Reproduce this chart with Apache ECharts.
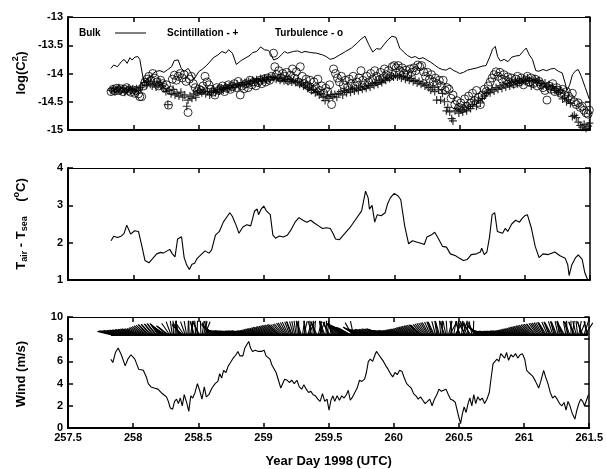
<!DOCTYPE html>
<html>
<head>
<meta charset="utf-8">
<script src="https://cdn.jsdelivr.net/npm/echarts@6/dist/echarts.min.js"></script>
<style>
  html, body { margin: 0; padding: 0; background: #fff; }
  #chart { width: 606px; height: 469px; }
</style>
</head>
<body>
<div id="chart"></div>
<script>
// ---- Refractive index structure parameter log(Cn^2) ----
const bulk = [[257.829,-13.91],[257.850,-13.85],[257.879,-13.88],[257.909,-13.79],[257.930,-13.75],[257.953,-13.82],[257.975,-13.72],[257.990,-13.76],[258.013,-13.71],[258.035,-13.70],[258.050,-13.75],[258.062,-13.78],[258.080,-14.14],[258.116,-14.10],[258.146,-14.01],[258.176,-13.96],[258.205,-13.95],[258.235,-13.98],[258.264,-13.93],[258.294,-13.88],[258.315,-13.77],[258.344,-13.76],[258.368,-13.91],[258.392,-13.96],[258.421,-13.91],[258.442,-13.99],[258.465,-14.10],[258.480,-14.05],[258.501,-13.97],[258.531,-13.92],[258.561,-13.86],[258.585,-13.80],[258.614,-13.72],[258.650,-13.67],[258.679,-13.61],[258.709,-13.64],[258.730,-13.58],[258.760,-13.64],[258.790,-13.84],[258.827,-13.77],[258.857,-13.73],[258.887,-13.69],[258.916,-13.63],[258.946,-13.61],[258.976,-13.53],[259.005,-13.58],[259.035,-13.59],[259.055,-13.65],[259.075,-13.76],[259.109,-13.73],[259.139,-13.66],[259.160,-13.61],[259.183,-13.64],[259.227,-13.61],[259.260,-13.60],[259.290,-13.63],[259.316,-13.61],[259.361,-13.63],[259.405,-13.64],[259.450,-13.67],[259.479,-13.70],[259.509,-13.75],[259.539,-13.73],[259.583,-13.67],[259.627,-13.61],[259.672,-13.55],[259.716,-13.46],[259.746,-13.39],[259.776,-13.34],[259.805,-13.49],[259.835,-13.62],[259.864,-13.56],[259.894,-13.57],[259.924,-13.48],[259.953,-13.40],[259.983,-13.34],[260.013,-13.36],[260.042,-13.55],[260.072,-13.62],[260.101,-13.68],[260.131,-13.72],[260.161,-13.70],[260.190,-13.74],[260.220,-13.72],[260.250,-13.76],[260.279,-13.80],[260.309,-13.85],[260.339,-13.90],[260.368,-13.93],[260.398,-13.94],[260.427,-13.90],[260.457,-13.95],[260.478,-13.97],[260.501,-14.00],[260.531,-13.98],[260.561,-13.94],[260.596,-13.92],[260.635,-13.90],[260.673,-13.87],[260.703,-13.86],[260.733,-13.70],[260.753,-13.57],[260.774,-13.52],[260.792,-13.70],[260.813,-13.78],[260.842,-13.75],[260.872,-13.79],[260.901,-13.71],[260.931,-13.69],[260.961,-13.68],[260.990,-13.60],[261.011,-13.55],[261.035,-13.67],[261.059,-13.75],[261.085,-13.95],[261.109,-13.96],[261.139,-13.93],[261.168,-13.95],[261.198,-13.92],[261.227,-13.91],[261.257,-13.96],[261.287,-13.99],[261.307,-14.15],[261.324,-14.30],[261.344,-14.20],[261.366,-14.02],[261.390,-13.95],[261.410,-13.93],[261.433,-14.05],[261.464,-14.25],[261.494,-14.45]];

const scintillation = [[257.83,-14.30],[257.845,-14.27],[257.86,-14.32],[257.875,-14.28],[257.89,-14.25],[257.905,-14.31],[257.92,-14.27],[257.935,-14.33],[257.95,-14.29],[257.965,-14.26],[257.98,-14.30],[257.995,-14.28],[258.01,-14.32],[258.025,-14.27],[258.04,-14.30],[258.055,-14.25],[258.07,-14.22],[258.085,-14.16],[258.10,-14.20],[258.115,-14.14],[258.13,-14.19],[258.145,-14.22],[258.16,-14.17],[258.175,-14.24],[258.19,-14.20],[258.205,-14.15],[258.22,-14.22],[258.235,-14.27],[258.25,-14.32],[258.265,-14.55],[258.275,-14.30],[258.29,-14.36],[258.305,-14.28],[258.32,-14.38],[258.335,-14.35],[258.35,-14.40],[258.365,-14.33],[258.38,-14.42],[258.395,-14.38],[258.41,-14.58],[258.42,-14.47],[258.435,-14.40],[258.45,-14.44],[258.465,-14.36],[258.48,-14.42],[258.495,-14.33],[258.51,-14.30],[258.525,-14.34],[258.54,-14.31],[258.555,-14.36],[258.57,-14.32],[258.585,-14.38],[258.60,-14.33],[258.615,-14.30],[258.63,-14.34],[258.645,-14.28],[258.66,-14.31],[258.675,-14.26],[258.69,-14.29],[258.705,-14.24],[258.72,-14.27],[258.735,-14.22],[258.75,-14.25],[258.765,-14.21],[258.78,-14.24],[258.795,-14.19],[258.81,-14.22],[258.825,-14.17],[258.84,-14.20],[258.855,-14.16],[258.87,-14.19],[258.885,-14.14],[258.90,-14.17],[258.915,-14.12],[258.93,-14.15],[258.945,-14.11],[258.96,-14.14],[258.975,-14.09],[258.99,-14.12],[259.005,-14.08],[259.02,-14.11],[259.035,-14.07],[259.05,-14.10],[259.065,-14.06],[259.08,-14.07],[259.095,-14.10],[259.11,-14.08],[259.125,-14.12],[259.14,-14.09],[259.155,-14.13],[259.17,-14.10],[259.185,-14.14],[259.20,-14.11],[259.215,-14.15],[259.23,-14.12],[259.245,-14.16],[259.26,-14.14],[259.275,-14.19],[259.29,-14.17],[259.305,-14.22],[259.32,-14.20],[259.335,-14.26],[259.35,-14.24],[259.365,-14.30],[259.38,-14.28],[259.395,-14.34],[259.41,-14.32],[259.425,-14.38],[259.44,-14.36],[259.455,-14.42],[259.47,-14.48],[259.485,-14.40],[259.50,-14.44],[259.515,-14.38],[259.53,-14.41],[259.545,-14.37],[259.56,-14.42],[259.575,-14.35],[259.59,-14.32],[259.605,-14.38],[259.62,-14.30],[259.635,-14.34],[259.65,-14.28],[259.665,-14.33],[259.68,-14.27],[259.695,-14.31],[259.71,-14.26],[259.725,-14.30],[259.74,-14.24],[259.755,-14.28],[259.77,-14.23],[259.785,-14.26],[259.80,-14.21],[259.815,-14.24],[259.83,-14.18],[259.845,-14.21],[259.86,-14.16],[259.875,-14.19],[259.89,-14.13],[259.905,-14.16],[259.92,-14.10],[259.935,-14.12],[259.95,-14.07],[259.965,-14.09],[259.98,-14.04],[259.995,-14.06],[260.01,-14.03],[260.025,-14.06],[260.04,-14.04],[260.055,-14.08],[260.07,-14.05],[260.085,-14.10],[260.10,-14.07],[260.115,-14.12],[260.13,-14.09],[260.145,-14.14],[260.16,-14.12],[260.175,-14.17],[260.19,-14.14],[260.205,-14.19],[260.22,-14.17],[260.235,-14.22],[260.25,-14.20],[260.265,-14.25],[260.28,-14.29],[260.295,-14.24],[260.31,-14.32],[260.325,-14.47],[260.34,-14.29],[260.355,-14.47],[260.37,-14.35],[260.385,-14.50],[260.40,-14.66],[260.41,-14.60],[260.425,-14.68],[260.44,-14.80],[260.45,-14.84],[260.465,-14.66],[260.48,-14.62],[260.495,-14.70],[260.51,-14.64],[260.525,-14.68],[260.54,-14.60],[260.555,-14.66],[260.57,-14.58],[260.585,-14.62],[260.60,-14.55],[260.615,-14.50],[260.63,-14.58],[260.645,-14.47],[260.66,-14.52],[260.675,-14.44],[260.69,-14.40],[260.705,-14.35],[260.72,-14.31],[260.735,-14.34],[260.75,-14.28],[260.765,-14.31],[260.78,-14.25],[260.795,-14.28],[260.81,-14.22],[260.825,-14.26],[260.84,-14.20],[260.855,-14.24],[260.87,-14.18],[260.885,-14.22],[260.90,-14.16],[260.915,-14.20],[260.93,-14.14],[260.945,-14.18],[260.96,-14.12],[260.975,-14.16],[260.99,-14.10],[261.005,-14.14],[261.02,-14.08],[261.035,-14.12],[261.05,-14.22],[261.065,-14.13],[261.08,-14.10],[261.095,-14.15],[261.11,-14.12],[261.125,-14.18],[261.14,-14.22],[261.155,-14.17],[261.17,-14.24],[261.185,-14.20],[261.20,-14.27],[261.215,-14.23],[261.23,-14.30],[261.245,-14.27],[261.26,-14.34],[261.275,-14.30],[261.29,-14.45],[261.305,-14.42],[261.32,-14.50],[261.335,-14.47],[261.35,-14.53],[261.365,-14.76],[261.38,-14.74],[261.395,-14.78],[261.41,-14.86],[261.425,-14.92],[261.44,-14.95],[261.455,-14.90],[261.47,-14.97],[261.485,-14.93],[261.495,-14.88]];

const turbulence = [[257.83,-14.32],[257.845,-14.28],[257.86,-14.31],[257.875,-14.26],[257.89,-14.30],[257.905,-14.27],[257.92,-14.32],[257.935,-14.28],[257.95,-14.25],[257.965,-14.30],[257.98,-14.33],[257.995,-14.29],[258.01,-14.35],[258.025,-14.30],[258.04,-14.36],[258.05,-14.41],[258.065,-14.41],[258.08,-14.22],[258.09,-14.15],[258.105,-14.10],[258.12,-14.05],[258.135,-14.12],[258.15,-14.00],[258.165,-14.08],[258.18,-14.15],[258.195,-14.22],[258.21,-14.12],[258.225,-14.18],[258.24,-14.25],[258.255,-14.20],[258.27,-14.56],[258.285,-14.30],[258.30,-14.10],[258.315,-14.03],[258.33,-14.12],[258.345,-14.05],[258.36,-14.00],[258.375,-14.08],[258.39,-14.02],[258.405,-14.14],[258.42,-14.69],[258.43,-14.10],[258.445,-14.05],[258.46,-14.18],[258.475,-14.25],[258.49,-14.32],[258.505,-14.28],[258.52,-14.30],[258.535,-14.22],[258.55,-14.05],[258.565,-14.15],[258.58,-14.20],[258.595,-14.28],[258.61,-14.33],[258.625,-14.38],[258.64,-14.25],[258.655,-14.30],[258.67,-14.27],[258.685,-14.22],[258.70,-14.32],[258.715,-14.26],[258.73,-14.20],[258.745,-14.28],[258.76,-14.23],[258.775,-14.18],[258.79,-14.25],[258.805,-14.14],[258.82,-14.38],[258.835,-14.22],[258.85,-14.27],[258.865,-14.18],[258.88,-14.25],[258.895,-14.12],[258.91,-14.20],[258.925,-14.15],[258.94,-14.22],[258.955,-14.16],[258.97,-14.12],[258.985,-14.18],[259.00,-14.10],[259.015,-14.15],[259.03,-14.08],[259.045,-14.12],[259.06,-14.05],[259.075,-13.64],[259.085,-13.88],[259.10,-14.02],[259.115,-13.95],[259.13,-14.08],[259.145,-14.00],[259.16,-14.05],[259.175,-13.98],[259.19,-14.12],[259.205,-14.03],[259.22,-13.92],[259.235,-14.08],[259.25,-13.97],[259.265,-14.15],[259.28,-13.88],[259.295,-14.05],[259.31,-14.18],[259.325,-14.10],[259.34,-14.22],[259.355,-14.12],[259.37,-14.28],[259.385,-14.15],[259.40,-14.25],[259.415,-14.10],[259.43,-14.30],[259.445,-14.22],[259.46,-14.35],[259.475,-14.26],[259.49,-14.32],[259.505,-14.20],[259.52,-14.55],[259.535,-13.92],[259.55,-14.00],[259.565,-14.08],[259.58,-14.15],[259.595,-14.05],[259.61,-14.20],[259.625,-14.12],[259.64,-14.25],[259.655,-14.10],[259.67,-14.18],[259.685,-14.05],[259.70,-14.22],[259.715,-14.15],[259.73,-14.08],[259.745,-13.95],[259.76,-14.12],[259.775,-14.20],[259.79,-14.05],[259.805,-14.15],[259.82,-14.00],[259.835,-14.10],[259.85,-13.95],[259.865,-14.05],[259.88,-14.12],[259.895,-13.98],[259.91,-14.08],[259.925,-13.92],[259.94,-14.02],[259.955,-13.95],[259.97,-14.05],[259.985,-13.88],[260.00,-13.86],[260.015,-13.90],[260.03,-13.86],[260.045,-13.95],[260.06,-13.90],[260.075,-14.00],[260.09,-13.94],[260.105,-14.02],[260.12,-13.92],[260.135,-13.98],[260.15,-13.90],[260.165,-13.95],[260.18,-13.85],[260.195,-13.88],[260.21,-13.86],[260.225,-13.97],[260.24,-14.05],[260.255,-13.98],[260.27,-14.10],[260.285,-14.02],[260.30,-14.15],[260.315,-14.08],[260.33,-14.18],[260.345,-14.12],[260.36,-14.22],[260.375,-14.12],[260.39,-14.30],[260.405,-14.25],[260.42,-14.28],[260.435,-14.44],[260.45,-14.38],[260.465,-14.55],[260.48,-14.48],[260.495,-14.60],[260.51,-14.52],[260.525,-14.62],[260.54,-14.45],[260.555,-14.58],[260.57,-14.40],[260.585,-14.52],[260.60,-14.35],[260.615,-14.48],[260.63,-14.30],[260.645,-14.42],[260.66,-14.55],[260.675,-14.38],[260.69,-14.28],[260.705,-14.32],[260.72,-14.22],[260.735,-14.15],[260.75,-14.08],[260.765,-14.02],[260.78,-13.97],[260.795,-14.05],[260.81,-13.98],[260.825,-14.10],[260.84,-14.02],[260.855,-14.12],[260.87,-14.06],[260.885,-14.15],[260.90,-14.08],[260.915,-14.18],[260.93,-14.10],[260.945,-14.05],[260.96,-14.15],[260.975,-14.08],[260.99,-14.20],[261.005,-14.12],[261.02,-14.05],[261.035,-14.15],[261.05,-14.08],[261.065,-14.18],[261.08,-14.10],[261.095,-14.22],[261.11,-14.14],[261.125,-14.20],[261.14,-14.25],[261.155,-14.30],[261.17,-14.47],[261.185,-14.22],[261.20,-14.28],[261.215,-14.18],[261.23,-14.32],[261.245,-14.25],[261.26,-14.30],[261.275,-14.35],[261.29,-14.28],[261.305,-14.38],[261.32,-14.32],[261.335,-14.40],[261.35,-14.45],[261.365,-14.35],[261.38,-14.50],[261.395,-14.55],[261.41,-14.52],[261.425,-14.60],[261.44,-14.58],[261.455,-14.65],[261.47,-14.70],[261.485,-14.72],[261.495,-14.65]];

// ---- Air minus sea temperature (deg C) ----
const tempDiff = [[257.83,2.05],[257.85,2.17],[257.88,2.14],[257.91,2.18],[257.93,2.25],[257.95,2.47],[257.98,2.23],[258.01,2.32],[258.04,2.30],[258.07,1.85],[258.09,1.52],[258.12,1.46],[258.15,1.58],[258.18,1.70],[258.21,1.74],[258.23,1.72],[258.26,1.78],[258.28,1.82],[258.30,1.70],[258.32,1.62],[258.34,2.10],[258.37,2.16],[258.38,2.15],[258.39,1.60],[258.41,1.40],[258.43,1.28],[258.45,1.42],[258.47,1.45],[258.49,1.58],[258.52,1.68],[258.55,1.78],[258.58,1.72],[258.60,1.80],[258.63,2.20],[258.66,2.30],[258.69,2.55],[258.72,2.70],[258.74,2.80],[258.76,2.70],[258.79,2.45],[258.81,2.25],[258.84,2.42],[258.87,2.48],[258.90,2.45],[258.93,2.85],[258.95,2.90],[258.96,2.75],[258.98,2.90],[259.00,2.98],[259.02,2.85],[259.05,2.75],[259.07,2.20],[259.09,2.12],[259.12,2.18],[259.15,2.15],[259.18,2.20],[259.21,2.35],[259.24,2.55],[259.27,2.67],[259.30,2.60],[259.33,2.55],[259.36,2.60],[259.39,2.52],[259.42,2.45],[259.45,2.38],[259.48,2.40],[259.51,2.38],[259.53,2.25],[259.55,2.10],[259.58,2.08],[259.61,2.20],[259.66,2.40],[259.70,2.60],[259.75,2.85],[259.78,3.38],[259.80,3.20],[259.81,2.90],[259.83,3.00],[259.85,2.55],[259.87,2.75],[259.90,2.72],[259.93,2.80],[259.95,3.05],[259.97,3.20],[260.00,3.32],[260.03,3.25],[260.05,3.15],[260.08,2.45],[260.11,1.97],[260.14,2.05],[260.17,2.02],[260.21,1.98],[260.23,1.95],[260.25,2.15],[260.29,2.22],[260.31,2.28],[260.34,2.10],[260.37,1.90],[260.40,1.88],[260.43,1.70],[260.47,1.65],[260.50,1.58],[260.53,1.52],[260.56,1.55],[260.59,1.68],[260.63,1.70],[260.66,1.75],[260.67,1.85],[260.69,1.68],[260.71,1.75],[260.73,2.15],[260.75,2.75],[260.77,2.80],[260.78,2.82],[260.79,2.30],[260.83,2.25],[260.85,2.38],[260.87,2.30],[260.90,2.50],[260.93,2.60],[260.96,2.55],[260.98,2.65],[261.00,2.72],[261.02,2.75],[261.05,2.40],[261.08,1.90],[261.11,1.60],[261.14,1.70],[261.18,1.68],[261.23,1.75],[261.27,1.65],[261.31,1.58],[261.33,1.40],[261.34,1.12],[261.36,1.40],[261.39,1.60],[261.41,1.67],[261.44,1.55],[261.46,1.20],[261.48,1.02]];

// ---- Wind speed (m/s) ----
const windSpeed = [[257.829,6.2],[257.844,5.9],[257.864,6.8],[257.885,7.2],[257.909,6.6],[257.924,6.6],[257.939,5.6],[257.959,6.2],[257.983,6.6],[258.013,6.2],[258.042,5.3],[258.078,5.2],[258.101,4.6],[258.116,4.0],[258.137,3.7],[258.161,3.6],[258.190,3.5],[258.214,3.2],[258.235,3.0],[258.256,2.8],[258.270,2.4],[258.285,1.8],[258.303,1.7],[258.318,2.4],[258.333,2.6],[258.347,2.2],[258.362,2.7],[258.377,2.0],[258.392,3.0],[258.413,2.2],[258.427,1.5],[258.442,2.9],[258.457,2.7],[258.475,3.2],[258.493,4.0],[258.510,3.4],[258.528,2.6],[258.546,3.7],[258.561,2.8],[258.581,3.0],[258.605,3.6],[258.629,4.0],[258.650,4.2],[258.664,4.9],[258.679,4.5],[258.694,5.2],[258.712,5.0],[258.730,5.6],[258.747,5.9],[258.768,6.3],[258.789,6.6],[258.804,6.9],[258.819,6.5],[258.842,6.5],[258.857,7.2],[258.872,7.5],[258.887,7.8],[258.901,7.2],[258.916,6.9],[258.937,7.0],[258.961,6.9],[258.984,6.9],[259.005,7.0],[259.020,6.5],[259.035,6.6],[259.050,6.2],[259.064,5.7],[259.079,5.8],[259.097,5.0],[259.115,4.3],[259.133,3.6],[259.147,3.7],[259.162,4.4],[259.183,4.3],[259.198,4.1],[259.218,4.3],[259.236,4.0],[259.257,4.3],[259.275,3.7],[259.293,3.5],[259.310,3.9],[259.328,3.5],[259.346,3.2],[259.364,3.3],[259.381,3.0],[259.399,2.9],[259.417,2.6],[259.435,2.4],[259.453,3.1],[259.470,2.4],[259.488,2.6],[259.503,1.6],[259.518,2.5],[259.533,2.9],[259.547,2.4],[259.565,2.9],[259.583,2.5],[259.601,2.9],[259.619,2.7],[259.636,3.0],[259.651,3.4],[259.666,2.5],[259.684,2.8],[259.701,3.2],[259.719,3.6],[259.737,4.3],[259.755,4.2],[259.776,4.4],[259.790,5.0],[259.805,6.0],[259.820,6.2],[259.838,6.0],[259.856,6.6],[259.867,6.9],[259.885,6.6],[259.903,6.3],[259.921,6.0],[259.939,5.6],[259.956,5.3],[259.974,4.9],[259.992,4.6],[260.010,5.0],[260.027,4.8],[260.045,5.2],[260.063,5.1],[260.081,4.5],[260.099,4.0],[260.116,3.8],[260.134,3.6],[260.152,3.1],[260.170,2.9],[260.187,2.6],[260.205,2.8],[260.223,2.5],[260.241,2.2],[260.259,2.4],[260.276,2.6],[260.294,2.0],[260.312,2.6],[260.330,3.0],[260.347,3.5],[260.365,3.3],[260.383,3.4],[260.401,3.5],[260.419,3.0],[260.436,2.6],[260.454,2.5],[260.472,2.3],[260.490,1.4],[260.501,0.9],[260.513,0.4],[260.525,1.2],[260.540,1.9],[260.555,1.4],[260.570,2.2],[260.584,2.7],[260.599,2.0],[260.614,3.0],[260.629,2.2],[260.644,2.8],[260.661,2.5],[260.679,2.7],[260.697,2.2],[260.715,2.6],[260.733,3.2],[260.747,4.5],[260.762,5.8],[260.777,6.0],[260.792,6.2],[260.807,6.0],[260.821,6.7],[260.836,6.8],[260.851,6.3],[260.866,6.8],[260.881,6.1],[260.899,6.6],[260.916,6.4],[260.934,6.7],[260.952,6.3],[260.970,6.6],[260.987,6.7],[261.005,6.2],[261.020,5.2],[261.035,5.0],[261.053,4.8],[261.070,4.6],[261.088,4.2],[261.112,3.6],[261.128,4.2],[261.150,5.2],[261.165,4.6],[261.183,4.0],[261.201,3.2],[261.219,2.7],[261.236,2.9],[261.254,2.6],[261.272,2.2],[261.290,2.0],[261.307,2.3],[261.322,1.6],[261.337,2.4],[261.352,2.0],[261.367,1.4],[261.390,0.8],[261.405,1.6],[261.420,2.2],[261.435,2.6],[261.450,2.4],[261.464,2.0],[261.479,2.1],[261.494,3.0]];

// ---- Wind direction sticks: [day, stick angle in degrees above the leftward horizontal] ----
const windSticks = [[257.83,14],[257.84,16],[257.85,15],[257.86,17],[257.87,16],[257.88,18],[257.89,17],[257.90,19],[257.91,18],[257.92,20],[257.93,19],[257.94,21],[257.95,20],[257.96,22],[257.97,21],[257.98,23],[257.99,22],[258.00,24],[258.01,25],[258.02,23],[258.03,26],[258.04,24],[258.05,27],[258.06,30],[258.07,33],[258.08,36],[258.09,40],[258.10,44],[258.11,48],[258.12,45],[258.13,50],[258.14,46],[258.15,52],[258.16,49],[258.17,54],[258.18,50],[258.19,55],[258.20,51],[258.21,48],[258.22,44],[258.23,40],[258.24,36],[258.25,32],[258.26,40],[258.27,38],[258.28,55],[258.29,70],[258.30,82],[258.31,88],[258.32,95],[258.33,90],[258.34,84],[258.35,78],[258.36,60],[258.37,48],[258.38,42],[258.39,55],[258.40,70],[258.41,80],[258.42,92],[258.43,88],[258.44,100],[258.45,95],[258.46,80],[258.47,72],[258.48,86],[258.49,92],[258.50,70],[258.51,62],[258.52,88],[258.53,98],[258.54,105],[258.55,112],[258.56,90],[258.57,78],[258.58,62],[258.59,52],[258.60,46],[258.61,42],[258.62,38],[258.63,34],[258.64,30],[258.65,26],[258.66,22],[258.67,20],[258.68,18],[258.69,17],[258.70,16],[258.71,17],[258.72,16],[258.73,18],[258.74,15],[258.75,16],[258.76,15],[258.77,17],[258.78,14],[258.79,15],[258.80,14],[258.81,16],[258.82,15],[258.83,16],[258.84,15],[258.85,17],[258.86,16],[258.87,15],[258.88,14],[258.89,15],[258.90,16],[258.91,17],[258.92,18],[258.93,19],[258.94,21],[258.95,22],[258.96,24],[258.97,25],[258.98,27],[258.99,28],[259.00,30],[259.01,32],[259.02,33],[259.03,35],[259.04,37],[259.05,38],[259.06,40],[259.07,42],[259.08,43],[259.09,45],[259.10,47],[259.11,48],[259.12,44],[259.13,46],[259.14,50],[259.15,52],[259.16,56],[259.17,58],[259.18,62],[259.19,65],[259.20,70],[259.21,72],[259.22,68],[259.23,74],[259.24,78],[259.25,82],[259.26,86],[259.27,90],[259.28,76],[259.29,72],[259.30,98],[259.31,104],[259.32,85],[259.33,80],[259.34,108],[259.35,112],[259.36,88],[259.37,76],[259.38,92],[259.39,95],[259.40,70],[259.41,66],[259.42,105],[259.43,112],[259.44,86],[259.45,80],[259.46,74],[259.47,70],[259.48,92],[259.49,96],[259.50,66],[259.51,62],[259.52,78],[259.53,74],[259.54,58],[259.55,55],[259.56,52],[259.57,50],[259.58,47],[259.59,45],[259.60,42],[259.61,40],[259.62,37],[259.63,35],[259.64,33],[259.65,32],[259.66,30],[259.67,29],[259.68,60],[259.69,78],[259.70,34],[259.71,31],[259.72,28],[259.73,26],[259.74,25],[259.75,24],[259.76,22],[259.77,21],[259.78,20],[259.79,21],[259.80,23],[259.81,22],[259.82,21],[259.83,23],[259.84,22],[259.85,25],[259.86,24],[259.87,23],[259.88,25],[259.89,26],[259.90,23],[259.91,21],[259.92,20],[259.93,19],[259.94,18],[259.95,18],[259.96,17],[259.97,17],[259.98,18],[259.99,18],[260.00,17],[260.01,17],[260.02,18],[260.03,19],[260.04,20],[260.05,21],[260.06,22],[260.07,23],[260.08,24],[260.09,26],[260.10,28],[260.11,30],[260.12,32],[260.13,34],[260.14,36],[260.15,38],[260.16,40],[260.17,42],[260.18,44],[260.19,46],[260.20,45],[260.21,44],[260.22,48],[260.23,51],[260.24,54],[260.25,57],[260.26,60],[260.27,62],[260.28,66],[260.29,70],[260.30,68],[260.31,65],[260.32,75],[260.33,82],[260.34,78],[260.35,74],[260.36,85],[260.37,92],[260.38,80],[260.39,70],[260.40,78],[260.41,86],[260.42,105],[260.43,118],[260.44,90],[260.45,80],[260.46,100],[260.47,122],[260.48,108],[260.49,94],[260.50,80],[260.51,70],[260.52,96],[260.53,108],[260.54,75],[260.55,60],[260.56,72],[260.57,86],[260.58,66],[260.59,56],[260.60,78],[260.61,92],[260.62,62],[260.63,50],[260.64,44],[260.65,40],[260.66,35],[260.67,30],[260.68,26],[260.69,22],[260.70,19],[260.71,17],[260.72,16],[260.73,15],[260.74,14],[260.75,14],[260.76,15],[260.77,14],[260.78,13],[260.79,14],[260.80,15],[260.81,14],[260.82,15],[260.83,14],[260.84,16],[260.85,15],[260.86,16],[260.87,15],[260.88,17],[260.89,18],[260.90,19],[260.91,20],[260.92,22],[260.93,23],[260.94,25],[260.95,26],[260.96,28],[260.97,30],[260.98,32],[260.99,34],[261.00,36],[261.01,38],[261.02,40],[261.03,42],[261.04,44],[261.05,46],[261.06,48],[261.07,50],[261.08,52],[261.09,50],[261.10,54],[261.11,56],[261.12,58],[261.13,60],[261.14,62],[261.15,65],[261.16,60],[261.17,58],[261.18,66],[261.19,70],[261.20,64],[261.21,62],[261.22,72],[261.23,76],[261.24,70],[261.25,68],[261.26,78],[261.27,82],[261.28,74],[261.29,72],[261.30,64],[261.31,60],[261.32,80],[261.33,88],[261.34,72],[261.35,70],[261.36,90],[261.37,98],[261.38,70],[261.39,64],[261.40,76],[261.41,84],[261.42,100],[261.43,112],[261.44,74],[261.45,68],[261.46,108],[261.47,122],[261.48,80],[261.49,74]];

// ---- Axis settings ----
const dayTicks = { min: 257.5, max: 261.5, interval: 0.5 };
const cn2Ticks = { min: -15, max: -13, interval: 0.5 };
const tempTicks = { min: 1, max: 4, interval: 1 };
const windTicks = { min: 0, max: 10, interval: 2 };

const STICK_BASE = 8.4;   // wind-speed level where the direction sticks are anchored
const STICK_LEN = 14;     // stick length in pixels

const FONT = '"Liberation Sans", Arial, Helvetica, sans-serif';
const chart = echarts.init(document.getElementById('chart'), null, { renderer: 'canvas' });

const panels = [
  { top: 17, height: 113, y: cn2Ticks },
  { top: 168, height: 112, y: tempTicks },
  { top: 317, height: 113, y: windTicks }
];

const grid = panels.map(p => ({ left: 68, top: p.top, width: 522, height: p.height }));

const xAxis = [];
const yAxis = [];
panels.forEach((p, i) => {
  const isLast = i === panels.length - 1;
  xAxis.push({
    type: 'value', gridIndex: i, position: 'bottom', ...dayTicks,
    axisLine: { show: true, onZero: false, lineStyle: { color: '#000', width: 2 } },
    axisTick: { show: true, inside: true, length: 5, lineStyle: { color: '#000', width: 1.5 } },
    axisLabel: {
      show: isLast, color: '#000', fontFamily: FONT, fontWeight: 'bold', fontSize: 11, margin: 4,
      formatter: v => String(v)
    },
    splitLine: { show: false },
    name: isLast ? 'Year Day 1998 (UTC)' : '',
    nameLocation: 'middle', nameGap: 27,
    nameTextStyle: { color: '#000', fontFamily: FONT, fontWeight: 'bold', fontSize: 13 }
  });
  xAxis.push({
    type: 'value', gridIndex: i, position: 'top', ...dayTicks,
    axisLine: { show: true, onZero: false, lineStyle: { color: '#000', width: 1.2 } },
    axisTick: { show: true, inside: true, length: 5, lineStyle: { color: '#000', width: 1.5 } },
    axisLabel: { show: false }, splitLine: { show: false }
  });
  yAxis.push({
    type: 'value', gridIndex: i, position: 'left', ...p.y,
    axisLine: { show: true, onZero: false, lineStyle: { color: '#000', width: 2 } },
    axisTick: { show: true, inside: true, length: 5, lineStyle: { color: '#000', width: 1.5 } },
    axisLabel: { show: true, color: '#000', fontFamily: FONT, fontWeight: 'bold', fontSize: 11, margin: 5 },
    splitLine: { show: false }
  });
  yAxis.push({
    type: 'value', gridIndex: i, position: 'right', ...p.y,
    axisLine: { show: true, onZero: false, lineStyle: { color: '#000', width: 1.5 } },
    axisTick: { show: true, inside: true, length: 5, lineStyle: { color: '#000', width: 1.5 } },
    axisLabel: { show: false }, splitLine: { show: false }
  });
});

// ---- Rotated y-axis titles with sub/superscripts ----
const measureCtx = document.createElement('canvas').getContext('2d');
function textWidth(str, font) { measureCtx.font = font; return measureCtx.measureText(str).width; }

const MAIN = 'bold 13px ' + FONT;
const SMALL = 'bold 9px ' + FONT;

// pieces: [{t, f, dy, stack}] ; stack=true places the piece at the same x as the previous one
function rotatedTitle(cx, cy, pieces) {
  let x = 0;
  let prevX = 0, prevW = 0;
  const children = [];
  pieces.forEach(pc => {
    const w = textWidth(pc.t, pc.f);
    let px;
    if (pc.stack) { px = prevX; prevW = Math.max(prevW, w); x = prevX + prevW; }
    else { px = x; prevX = x; prevW = w; x += w; }
    children.push({
      type: 'text', x: px, y: pc.dy || 0,
      style: { text: pc.t, font: pc.f, fill: '#000', align: 'left', verticalAlign: 'middle',
               textAlign: 'left', textVerticalAlign: 'middle' }
    });
  });
  return { type: 'group', x: cx, y: cy + x / 2, rotation: Math.PI / 2, children };
}

const graphic = [
  rotatedTitle(21, 73, [
    { t: 'log(C', f: MAIN },
    { t: '2', f: SMALL, dy: -5 },
    { t: 'n', f: SMALL, dy: 4, stack: true },
    { t: ')', f: MAIN }
  ]),
  rotatedTitle(21, 224, [
    { t: 'T', f: MAIN },
    { t: 'air', f: SMALL, dy: 4 },
    { t: ' - T', f: MAIN },
    { t: 'sea', f: SMALL, dy: 4 },
    { t: '    (', f: MAIN },
    { t: 'o', f: SMALL, dy: -4 },
    { t: 'C)', f: MAIN }
  ]),
  rotatedTitle(21, 374, [ { t: 'Wind (m/s)', f: MAIN } ]),
  // legend of the top panel
  { type: 'text', x: 79, y: 33, style: { text: 'Bulk', font: 'bold 10px ' + FONT, fill: '#000',
      align: 'left', verticalAlign: 'middle', textAlign: 'left', textVerticalAlign: 'middle' } },
  { type: 'line', shape: { x1: 115, y1: 33, x2: 146, y2: 33 }, style: { stroke: '#000', lineWidth: 1 } },
  { type: 'text', x: 167, y: 33, style: { text: 'Scintillation - +', font: 'bold 10px ' + FONT, fill: '#000',
      align: 'left', verticalAlign: 'middle', textAlign: 'left', textVerticalAlign: 'middle' } },
  { type: 'text', x: 275, y: 33, style: { text: 'Turbulence - o', font: 'bold 10px ' + FONT, fill: '#000',
      align: 'left', verticalAlign: 'middle', textAlign: 'left', textVerticalAlign: 'middle' } }
];

const lineCommon = { type: 'line', showSymbol: false, symbol: 'none', animation: false, silent: true };

const series = [
  { ...lineCommon, name: 'Bulk', xAxisIndex: 0, yAxisIndex: 0, data: bulk,
    lineStyle: { color: '#000', width: 1 } },
  { type: 'scatter', name: 'Turbulence', xAxisIndex: 0, yAxisIndex: 0, data: turbulence,
    symbol: 'circle', symbolSize: 8, animation: false, silent: true,
    itemStyle: { color: 'rgba(0,0,0,0)', borderColor: '#000', borderWidth: 1 } },
  { type: 'scatter', name: 'Scintillation', xAxisIndex: 0, yAxisIndex: 0, data: scintillation,
    symbol: 'path://M0,4L8,4M4,0L4,8', symbolSize: 8, animation: false, silent: true,
    itemStyle: { color: 'none', borderColor: '#000', borderWidth: 1.2 } },
  { ...lineCommon, name: 'Tair-Tsea', xAxisIndex: 2, yAxisIndex: 2, data: tempDiff,
    lineStyle: { color: '#000', width: 1.1 } },
  { ...lineCommon, name: 'Wind', xAxisIndex: 4, yAxisIndex: 4, data: windSpeed,
    lineStyle: { color: '#000', width: 1.1 } },
  { ...lineCommon, name: 'Stick base', xAxisIndex: 4, yAxisIndex: 4,
    data: [[windSticks[0][0], STICK_BASE], [windSticks[windSticks.length - 1][0], STICK_BASE]],
    lineStyle: { color: '#000', width: 2.5 } },
  {
    type: 'custom', name: 'Wind direction', xAxisIndex: 4, yAxisIndex: 4, data: windSticks,
    animation: false, silent: true, clip: false,
    encode: { x: 0 },
    renderItem: (params, api) => {
      const p = api.coord([api.value(0), STICK_BASE]);
      const a = api.value(1) * Math.PI / 180;
      return {
        type: 'line',
        shape: { x1: p[0], y1: p[1], x2: p[0] - STICK_LEN * Math.cos(a), y2: p[1] - STICK_LEN * Math.sin(a) },
        style: { stroke: '#000', lineWidth: 1.1 }
      };
    }
  }
];

chart.setOption({
  backgroundColor: '#fff',
  animation: false,
  grid, xAxis, yAxis, series, graphic
});
</script>
</body>
</html>
